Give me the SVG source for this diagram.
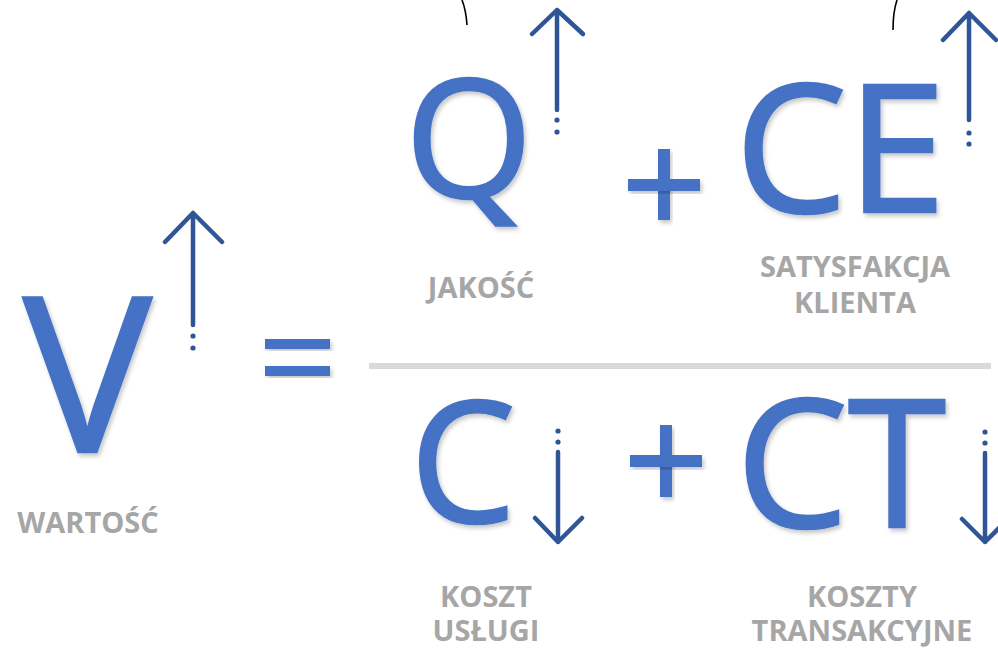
<svg xmlns="http://www.w3.org/2000/svg" width="998" height="648" viewBox="0 0 998 648">
<defs>
<filter id="sh" x="-20%" y="-20%" width="140%" height="140%">
<feDropShadow dx="2" dy="3" stdDeviation="2" flood-color="#000" flood-opacity="0.22"/>
</filter>
<style>
.big{font-family:"Open Sans","Liberation Sans",sans-serif;fill:#4472C4;stroke:#4472C4;stroke-width:2.5;filter:url(#sh)}
.lbl{font-family:"Open Sans","DejaVu Sans",sans-serif;font-weight:bold;fill:#A6A6A6;font-size:29px;text-anchor:middle}
.arr{fill:none;stroke:#2F5597;stroke-width:4.5;stroke-linecap:round;stroke-linejoin:round}
.dot{fill:#2F5597}
.op{fill:#4472C4;filter:url(#sh)}
</style>
</defs>
<rect width="998" height="648" fill="#fff"/>
<g id="curves" fill="none" stroke="#000" stroke-width="1.6">
<path d="M462,0 Q466,10 467,25"/>
<path d="M897,0 Q893,12 893,30"/>
</g>
<g id="node-V">
<text class="big" x="23" y="452" font-size="216">V</text>
<text class="lbl" x="88" y="533">WARTOŚĆ</text>
</g>
<g id="equals">
<rect class="op" x="265" y="339" width="65" height="10"/>
<rect class="op" x="265" y="366" width="65" height="10"/>
</g>
<g id="fraction">
<rect x="369" y="363" width="622" height="6" fill="#D9D9D9"/>
</g>
<g id="node-Q">
<text class="big" x="405" y="197" font-size="164">Q</text>
<text class="lbl" x="481" y="298">JAKOŚĆ</text>
</g>
<g id="plus-top">
<rect class="op" x="658" y="149" width="12" height="71"/>
<rect class="op" x="628" y="179" width="72" height="12"/>
</g>
<g id="node-CE">
<text class="big" x="735" y="212" font-size="178">CE</text>
<text class="lbl" x="855" y="277">SATYSFAKCJA</text>
<text class="lbl" x="855" y="313">KLIENTA</text>
</g>
<g id="node-C">
<text class="big" x="410" y="522" font-size="168">C</text>
<text class="lbl" x="486" y="607">KOSZT</text>
<text class="lbl" x="486" y="641">USŁUGI</text>
</g>
<g id="plus-bottom">
<rect class="op" x="660" y="425" width="12" height="72"/>
<rect class="op" x="630" y="455" width="72" height="12"/>
</g>
<g id="node-CT">
<text class="big" x="736" y="527" font-size="178">CT</text>
<text class="lbl" x="862" y="607">KOSZTY</text>
<text class="lbl" x="862" y="641">TRANSAKCYJNE</text>
</g>
<g id="connectors">
<g id="arrow-V">
<path class="arr" d="M193,325 V213 M165,242 L193,213 L222,242"/>
<circle class="dot" cx="193" cy="336" r="2.6"/><circle class="dot" cx="193" cy="348" r="2.6"/>
</g>
<g id="arrow-Q">
<path class="arr" d="M557,110 V10 M532,34 L557,10 L583,34"/>
<circle class="dot" cx="557" cy="120" r="2.6"/><circle class="dot" cx="557" cy="132" r="2.6"/>
</g>
<g id="arrow-CE">
<path class="arr" d="M969,120 V13 M943,40 L969,13 L996,40"/>
<circle class="dot" cx="969" cy="133" r="2.6"/><circle class="dot" cx="969" cy="144" r="2.6"/>
</g>
<g id="arrow-C">
<path class="arr" d="M558,452 V542 M535,518 L558,542 L582,518"/>
<circle class="dot" cx="558" cy="431" r="2.6"/><circle class="dot" cx="558" cy="442" r="2.6"/>
</g>
<g id="arrow-CT">
<path class="arr" d="M985,453 V542 M962,519 L985,542 L1008,519"/>
<circle class="dot" cx="985" cy="432" r="2.6"/><circle class="dot" cx="985" cy="443" r="2.6"/>
</g>
</g>
</svg>
